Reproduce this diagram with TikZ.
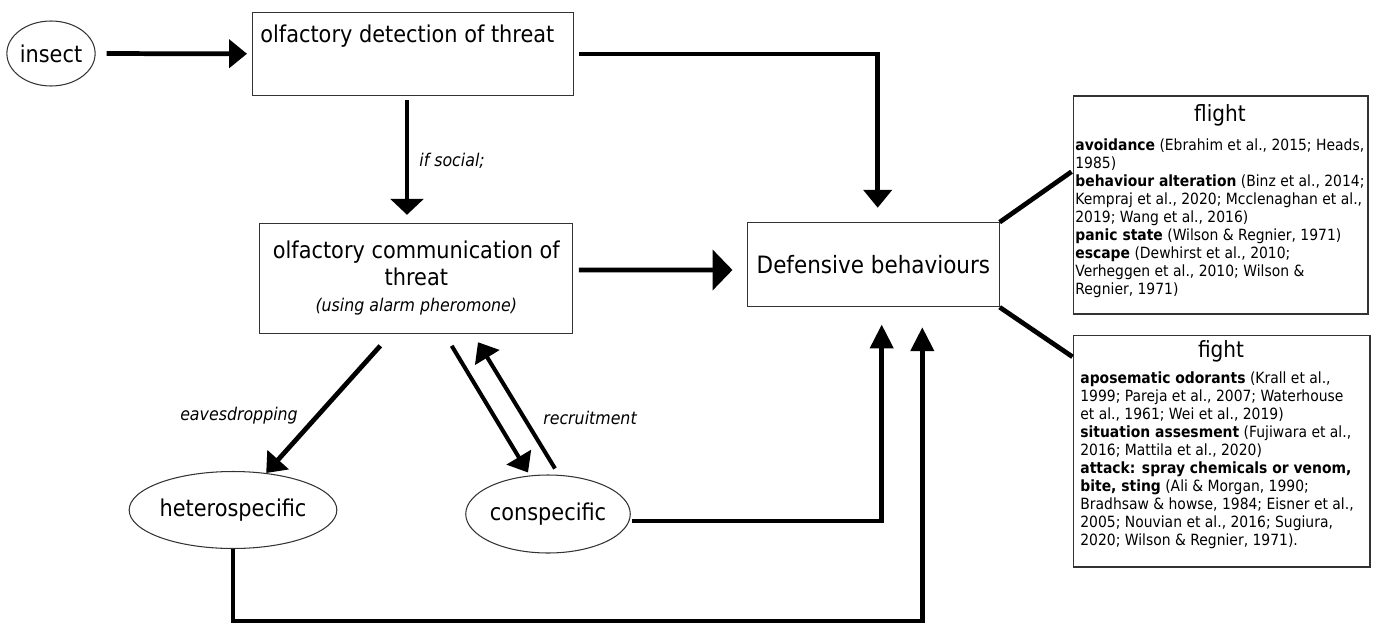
\documentclass[tikz,border=0pt]{standalone}
\usepackage{fontspec}
\setmainfont{DejaVu Sans}[FakeStretch=0.9]
\usetikzlibrary{positioning, arrows.meta, calc, shapes.geometric}
\newcommand{\mainsize}{\fontsize{13.2}{15}\selectfont}
\newcommand{\headsize}{\fontsize{12.7}{15}\selectfont}
\newcommand{\lblsize}{\fontsize{10}{14.6}\selectfont}
\newcommand{\refsize}{\fontsize{8.8}{10.3}\selectfont}

\begin{document}
\begin{tikzpicture}[x=0.02cm, y=-0.02cm,
    box/.style={draw=black!80, line width=0.6pt, inner sep=0pt},
    oval/.style={ellipse, draw=black!80, line width=0.6pt, inner sep=0pt, font=\mainsize},
    arr/.style={-{Triangle[length=10.2pt, width=15.9pt]}, line width=2.7pt},
    bigtip/.style={-{Triangle[length=11.3pt, width=22.7pt]}},
    uptip/.style={-{Triangle[length=13.6pt, width=13pt]}},
    lnk/.style={line width=2.7pt},
    lbl/.style={font=\lblsize\itshape, inner sep=0pt},
]
    \useasboundingbox (0,0) rectangle (1381,625);

    % Nodes
    \node[oval, minimum width=1.64cm, minimum height=1.30cm] (insect) at (51,53.5) {insect};
    \node[box, minimum width=6.42cm, minimum height=1.67cm] (det) at (413,54) {};
    \node[anchor=base west, inner sep=0pt, font=\mainsize] (dettext) at (260,43) {olfactory detection of threat};
    \node[box, minimum width=6.26cm, minimum height=2.2cm, align=center, font=\mainsize] (comm) at (416.3,278.3)
        {olfactory communication of\\threat\\{\lblsize\itshape (using alarm pheromone)}};
    \node[box, minimum width=5.03cm, minimum height=1.68cm, font=\fontsize{13.6}{16}\selectfont] (def) at (873.4,264.7) {Defensive behaviours};
    \node[oval, minimum width=3.2cm, minimum height=1.54cm] (hetero) at (233,510) {heterospecific};
    \node[oval, minimum width=3.16cm, minimum height=1.56cm] (consp) at (548,514) {conspecific};

    % Flight / fight boxes
    \node[box, minimum width=5.9cm, minimum height=4.36cm] (flight) at (1220.5,205) {};
    \node[anchor=base, font=\headsize] (flighttitle) at (1220,121) {flight};
    \node[anchor=north west, align=left, inner sep=0pt, font=\refsize] (flightbody) at (1075,138)
        {\textbf{avoidance} (Ebrahim et al., 2015; Heads,\\
         1985)\\
         \textbf{behaviour alteration} (Binz et al., 2014;\\
         Kempraj et al., 2020; Mcclenaghan et al.,\\
         2019; Wang et al., 2016)\\
         \textbf{panic state} (Wilson \& Regnier, 1971)\\
         \textbf{escape} (Dewhirst et al., 2010;\\
         Verheggen et al., 2010; Wilson \&\\
         Regnier, 1971)};
    \node[box, minimum width=5.94cm, minimum height=4.64cm] (fight) at (1221.5,451) {};
    \node[anchor=base, font=\headsize] (fighttitle) at (1221,357) {fight};
    \node[anchor=north west, align=left, inner sep=0pt, font=\refsize] (fightbody) at (1080,371)
        {\textbf{aposematic odorants} (Krall et al.,\\
         1999; Pareja et al., 2007; Waterhouse\\
         et al., 1961; Wei et al., 2019)\\
         \textbf{situation assesment} (Fujiwara et al.,\\
         2016; Mattila et al., 2020)\\
         \textbf{attack: spray chemicals or venom,}\\
         \textbf{bite, sting} (Ali \& Morgan, 1990;\\
         Bradhsaw \& howse, 1984; Eisner et al.,\\
         2005; Nouvian et al., 2016; Sugiura,\\
         2020; Wilson \& Regnier, 1971).};

    % Labels
    \node[lbl, anchor=base west] (ifsocial) at (419,166) {if social;};
    \node[lbl] (eaves) at (239,416) {eavesdropping};
    \node[lbl] (recruit) at (590,418) {recruitment};

    % Arrows
    \draw[arr, shorten <=0.22cm, shorten >=0.1cm] (insect) -- (det);
    \draw[arr, -{Triangle[length=9.1pt, width=18.7pt]}] ($(det.south)+(-6,4)$) -- ($(det.south |- comm.north)+(-6,-8)$);
    \draw[arr] ($(det.east)+(5,0)$) -| ($(def.north)+(4.3,-14.4)$);
    \draw[arr, bigtip] ($(comm.east)+(5.6,-8.3)$) -- ($(def.west)+(-14.7,5.3)$);
    \draw[arr] ($(comm.south)+(-36,12)$) -- (hetero);
    \draw[arr, line width=2.3pt] ($(comm.south)+(35.4,12)$) -- ($(consp.north)+(-20,-2)$);
    \draw[arr, line width=2.3pt] ($(consp.north)+(7,-6)$) -- ($(comm.south)+(61.7,8.4)$);
    \draw[arr, uptip] ($(consp.east)+(1,7)$) -| ($(def.south)+(8.3,17.3)$);
    \draw[arr, uptip] (hetero.south) -- ++(0,72) -| ($(def.south)+(48.9,20)$);

    % Links to flight / fight
    \draw[lnk] (def.north east) -- ($(flight.west)+(-1,-33.3)$);
    \draw[lnk] (def.south east) -- ($(fight.north west)+(0,22.3)$);
\end{tikzpicture}
\end{document}
